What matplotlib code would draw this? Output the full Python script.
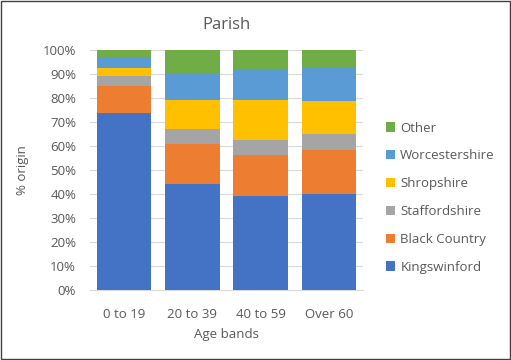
import matplotlib.pyplot as plt
import numpy as np
from matplotlib.patches import Rectangle

ages = ['0 to 19', '20 to 39', '40 to 59', 'Over 60']
kingswinford = [73.6, 44.3, 39.2, 39.9]
black_country = [11.4, 16.7, 17.2, 18.3]
staffordshire = [4.1, 5.9, 6.3, 7.0]
shropshire = [3.6, 12.4, 16.6, 13.4]
worcestershire = [4.5, 11.3, 12.2, 14.0]
other = [2.8, 9.4, 8.5, 7.4]

series = [('Kingswinford', kingswinford, '#4472C4'),
          ('Black Country', black_country, '#ED7D31'),
          ('Staffordshire', staffordshire, '#A5A5A5'),
          ('Shropshire', shropshire, '#FFC000'),
          ('Worcestershire', worcestershire, '#5B9BD5'),
          ('Other', other, '#70AD47')]

plt.rcParams['font.family'] = ['Open Sans', 'DejaVu Sans']
txt = '#595959'

fig = plt.figure(figsize=(5.11, 3.6), dpi=100)
ax = fig.add_axes([90/511, 1-290/360, 273/511, 240/360])

x = np.arange(len(ages))
bottom = np.zeros(len(ages))
handles = []
for name, vals, col in series:
    b = ax.bar(x, vals, bottom=bottom, width=0.8, color=col, label=name, zorder=3)
    handles.append(b)
    bottom += np.array(vals)

ax.set_xlim(-0.5, 3.5)
ax.set_ylim(0, 100)
ax.set_yticks(np.arange(0, 101, 10))
ax.set_yticklabels([f'{v}%' for v in range(0, 101, 10)])
ax.set_xticks(x)
ax.set_xticklabels(ages)
ax.yaxis.grid(True, color='#D9D9D9', linewidth=0.8, zorder=0)
for s in ['top', 'right', 'left']:
    ax.spines[s].set_visible(False)
ax.spines['bottom'].set_color('#D9D9D9')
ax.tick_params(length=0, colors=txt, labelsize=9.5)
ax.tick_params(axis='x', pad=13)
ax.tick_params(axis='y', pad=10)
ax.set_xlabel('Age bands', color=txt, fontsize=9.5, labelpad=5)
ax.set_ylabel('% origin', color=txt, fontsize=9.5, labelpad=10)
ax.set_title('Parish', color=txt, fontsize=12, pad=15)

leg = ax.legend(handles[::-1], [s[0] for s in series][::-1], loc='center left',
                bbox_to_anchor=(1.04, 0.385), frameon=False, fontsize=9.5,
                handlelength=0.7, handleheight=0.7, handletextpad=0.4, labelspacing=1.12)
for t in leg.get_texts():
    t.set_color(txt)

border = Rectangle((0.001, 0.002), 0.997, 0.995, transform=fig.transFigure,
                   fill=False, edgecolor='#404040', linewidth=1)
fig.patches.append(border)

fig.savefig('out.png', dpi=100)
